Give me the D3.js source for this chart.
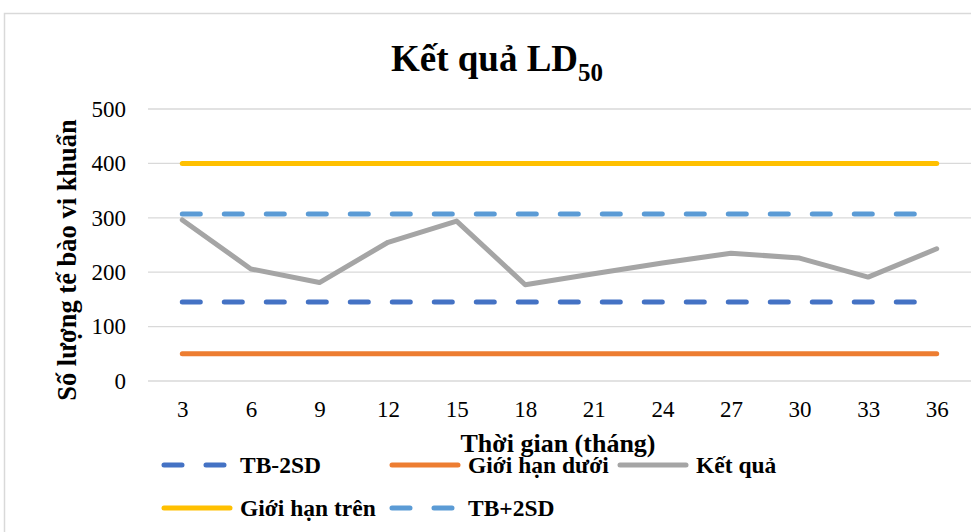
<!DOCTYPE html>
<html>
<head>
<meta charset="utf-8">
<script src="https://cdn.jsdelivr.net/npm/d3@7"></script>
<style>
  body { margin: 0; background: #fff; }
  text { font-family: "Liberation Serif", "Times New Roman", serif; }
</style>
</head>
<body>
<div id="chart"></div>
<script>
const months = ['3', '6', '9', '12', '15', '18', '21', '24', '27', '30', '33', '36'];
const ketQua = [296, 206, 181, 255, 294, 177, 197, 217, 235, 226, 191, 243];
const tbMinus2SD = [145, 145, 145, 145, 145, 145, 145, 145, 145, 145, 145, 145];
const tbPlus2SD = [307, 307, 307, 307, 307, 307, 307, 307, 307, 307, 307, 307];
const gioiHanDuoi = [50, 50, 50, 50, 50, 50, 50, 50, 50, 50, 50, 50];
const gioiHanTren = [400, 400, 400, 400, 400, 400, 400, 400, 400, 400, 400, 400];
const yTicks = [0, 100, 200, 300, 400, 500];

const series = [
    { name: 'TB-2SD', values: tbMinus2SD, color: '#4472C4', dash: true },
    { name: 'Giới hạn dưới', values: gioiHanDuoi, color: '#ED7D31', dash: false },
    { name: 'Kết quả', values: ketQua, color: '#A5A5A5', dash: false },
    { name: 'Giới hạn trên', values: gioiHanTren, color: '#FFC000', dash: false },
    { name: 'TB+2SD', values: tbPlus2SD, color: '#5B9BD5', dash: true }
];

const W = 971, H = 532;
const plot = { left: 148, right: 971, top: 109, bottom: 381 };

const svg = d3.select('#chart').append('svg')
    .attr('width', W)
    .attr('height', H);

// chart frame
svg.append('rect')
    .attr('x', 4.5).attr('y', 13.5)
    .attr('width', 1000).attr('height', 600)
    .attr('fill', '#fff')
    .attr('stroke', '#d9d9d9')
    .attr('stroke-width', 1.5);

const x = d3.scalePoint()
    .domain(months)
    .range([plot.left, plot.right])
    .padding(0.5);

const y = d3.scaleLinear()
    .domain([0, 500])
    .range([plot.bottom, plot.top]);

// gridlines
svg.append('g')
    .selectAll('line')
    .data(yTicks)
    .enter()
    .append('line')
    .attr('x1', plot.left).attr('x2', plot.right)
    .attr('y1', d => y(d)).attr('y2', d => y(d))
    .attr('stroke', '#d9d9d9')
    .attr('stroke-width', 1.3);

// y axis labels
const yAxis = svg.append('g')
    .attr('transform', `translate(${plot.left - 22},0)`)
    .call(d3.axisLeft(y).tickValues(yTicks).tickSize(0).tickPadding(0));
yAxis.select('.domain').remove();
yAxis.selectAll('text')
    .attr('fill', '#000')
    .style('font-size', '23px')
    .style('font-family', 'Liberation Serif, serif');

// x axis labels
const xAxis = svg.append('g')
    .attr('transform', `translate(0,${plot.bottom + 19})`)
    .call(d3.axisBottom(x).tickSize(0).tickPadding(0));
xAxis.select('.domain').remove();
xAxis.selectAll('text')
    .attr('fill', '#000')
    .attr('dy', '0.75em')
    .style('font-size', '23px')
    .style('font-family', 'Liberation Serif, serif');

// series lines
const line = d3.line()
    .x((d, i) => x(months[i]))
    .y(d => y(d));

series.forEach(s => {
    svg.append('path')
        .datum(s.values)
        .attr('d', line)
        .attr('fill', 'none')
        .attr('stroke', s.color)
        .attr('stroke-width', 5)
        .attr('stroke-linecap', 'round')
        .attr('stroke-linejoin', 'round')
        .attr('stroke-dasharray', s.dash ? '18,24' : null);
});

// title
const title = svg.append('text')
    .attr('x', 497)
    .attr('y', 71)
    .attr('text-anchor', 'middle')
    .style('font-size', '37px')
    .style('font-weight', 'bold');
title.append('tspan').text('Kết quả LD');
title.append('tspan').attr('dy', 10).style('font-size', '25px').text('50');

// axis titles
svg.append('text')
    .attr('transform', `translate(76,${260}) rotate(-90)`)
    .attr('text-anchor', 'middle')
    .style('font-size', '26.5px')
    .style('font-weight', 'bold')
    .text('Số lượng tế bào vi khuẩn');

svg.append('text')
    .attr('x', 558)
    .attr('y', 452)
    .attr('text-anchor', 'middle')
    .style('font-size', '26px')
    .style('font-weight', 'bold')
    .text('Thời gian (tháng)');

// legend
const legendPos = [
    { col: 0, row: 0 }, { col: 1, row: 0 }, { col: 2, row: 0 },
    { col: 0, row: 1 }, { col: 1, row: 1 }
];

series.forEach((s, i) => {
    const p = legendPos[i];
    const g = svg.append('g')
        .attr('transform', `translate(${164 + p.col * 228},${465 + p.row * 43})`);
    g.append('line')
        .attr('x1', 0).attr('x2', 66)
        .attr('y1', 0).attr('y2', 0)
        .attr('stroke', s.color)
        .attr('stroke-width', 5)
        .attr('stroke-linecap', 'round')
        .attr('stroke-dasharray', s.dash ? '18,24' : null);
    g.append('text')
        .attr('x', 76)
        .attr('y', 8)
        .style('font-size', '23.5px')
        .style('font-weight', 'bold')
        .text(s.name);
});
</script>
</body>
</html>
